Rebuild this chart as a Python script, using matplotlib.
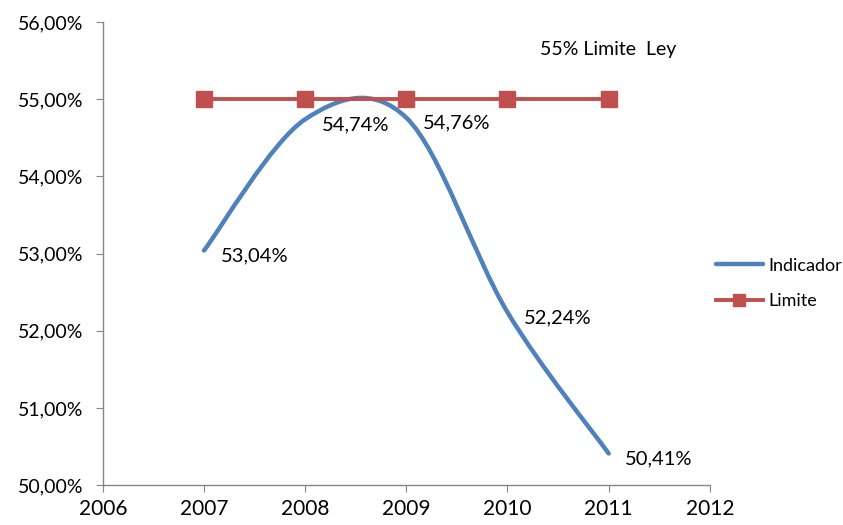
import matplotlib.pyplot as plt
from matplotlib.path import Path
from matplotlib.patches import PathPatch
from matplotlib.lines import Line2D

plt.rcParams['font.family'] = ['Lato', 'DejaVu Sans']

# -------- data --------
years = [2007, 2008, 2009, 2010, 2011]
indicador = [53.04, 54.74, 54.76, 52.24, 50.41]
limite = [55.0, 55.0, 55.0, 55.0, 55.0]
y_ticks = [50, 51, 52, 53, 54, 55, 56]
x_ticks = [2006, 2007, 2008, 2009, 2010, 2011, 2012]

blue = "#4F81BD"
red = "#C0504D"
grey = "#868686"

fig = plt.figure(figsize=(8.43, 5.25), dpi=100)
ax = fig.add_axes([0.122, 0.076, 0.72, 0.882])


# smoothed line like excel (bezier with catmull-rom control points)
def smooth_path(xs, ys):
    pts = list(zip(xs, ys))
    verts = [pts[0]]
    codes = [Path.MOVETO]
    n = len(pts)
    for i in range(n - 1):
        p0 = pts[i - 1] if i > 0 else pts[i]
        p1 = pts[i]
        p2 = pts[i + 1]
        p3 = pts[i + 2] if i + 2 < n else pts[i + 1]
        c1 = (p1[0] + (p2[0] - p0[0]) / 6, p1[1] + (p2[1] - p0[1]) / 6)
        c2 = (p2[0] - (p3[0] - p1[0]) / 6, p2[1] - (p3[1] - p1[1]) / 6)
        verts += [c1, c2, p2]
        codes += [Path.CURVE4] * 3
    return Path(verts, codes)


patch = PathPatch(smooth_path(years, indicador), facecolor="none",
                  edgecolor=blue, lw=3.2, capstyle="round", zorder=3)
ax.add_patch(patch)

ax.plot(years, limite, color=red, lw=2.8, marker="s", markersize=11,
        zorder=4)

# data labels
for x, y in zip(years, indicador):
    ax.annotate(f"{y:.2f}%".replace(".", ","), (x, y), xytext=(12, -4),
                textcoords="offset points", ha="left", va="center",
                fontsize=14.5)

ax.text(2010.32, 55.65, "55% Limite  Ley", fontsize=14, ha="left",
        va="center")

ax.set_xlim(2006, 2012)
ax.set_ylim(50, 56)
ax.set_xticks(x_ticks)
ax.set_xticklabels([str(v) for v in x_ticks], fontsize=15)
ax.set_yticks(y_ticks)
ax.set_yticklabels([f"{v:.2f}%".replace(".", ",") for v in y_ticks],
                   fontsize=14)

for s in ["top", "right"]:
    ax.spines[s].set_visible(False)
for s in ["left", "bottom"]:
    ax.spines[s].set_color(grey)
    ax.spines[s].set_linewidth(1)
ax.tick_params(axis="both", color=grey, length=5, direction="out")
ax.tick_params(axis="x", pad=5)
ax.tick_params(axis="y", pad=9)

# legend
handles = [Line2D([], [], color=blue, lw=3.2, solid_capstyle="round"),
           Line2D([], [], color=red, lw=2.8, marker="s", markersize=9)]
fig.legend(handles, ["Indicador", "Limite"], loc="center left",
           bbox_to_anchor=(0.83, 0.46), frameon=False, fontsize=13,
           handlelength=2.6, labelspacing=1.1, handletextpad=0.3)

fig.savefig("out.png", dpi=100)
